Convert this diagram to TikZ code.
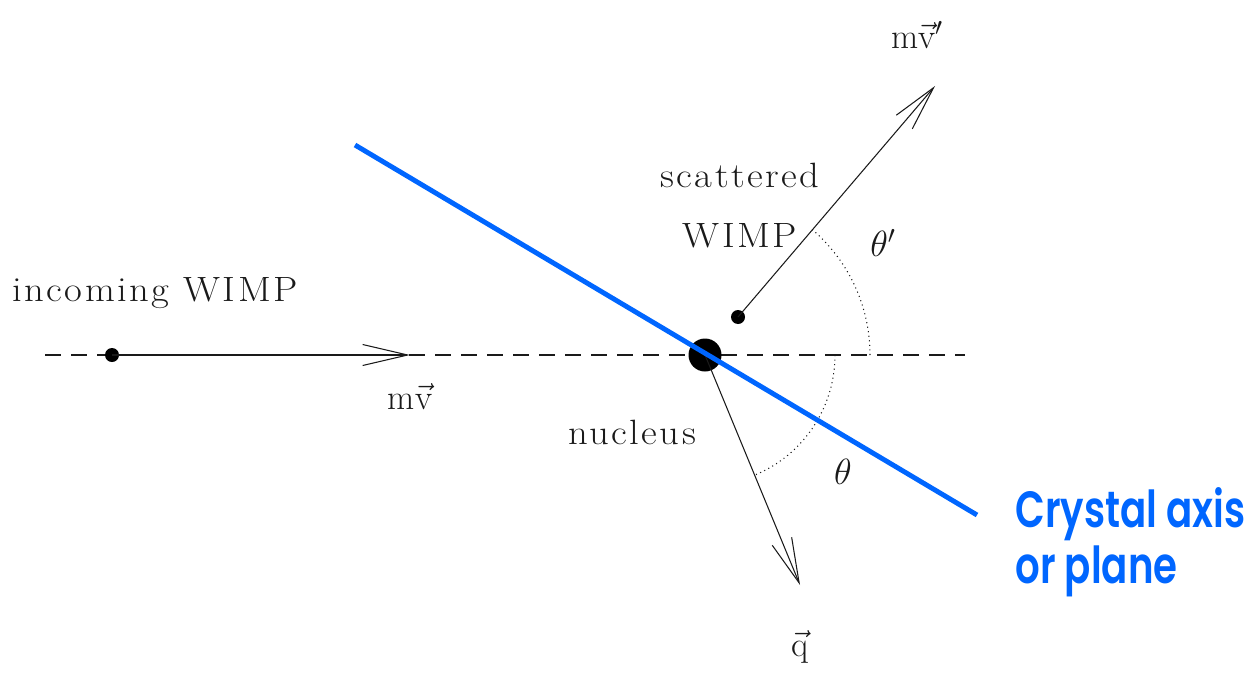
\documentclass[tikz,border=0pt]{standalone}
\usepackage{fontspec}
\usepackage{amsmath}
\usetikzlibrary{arrows.meta, positioning, calc}
\newfontfamily\axisfont{Poppins SemiBold}[FakeStretch=0.76]
\newfontfamily\labelfont{Latin Modern Roman}[FakeStretch=1.1, LetterSpace=7]
\definecolor{axisblue}{HTML}{0066FF}
\definecolor{inkdark}{HTML}{1A1A1A}
\tikzset{
  lbl/.style={text=inkdark, inner sep=0pt,
    font=\labelfont\fontsize{20}{24}\selectfont},
  vecline/.style={inkdark, line width=0.6pt,
    -{Straight Barb[length=0.9cm, width=0.42cm, line width=0.6pt]}},
  particle/.style={circle, fill=black, inner sep=0pt, minimum size=0.28cm},
  arcline/.style={inkdark, line width=0.6pt, dotted}
}

\begin{document}
\begin{tikzpicture}
  \useasboundingbox (0,0) rectangle (25.04,13.44);
  % beam axis
  \coordinate (axisL) at (0.9,6.34);
  \coordinate (axisR) at (19.3,6.34);
  \draw[inkdark, line width=0.7pt, dash pattern=on 0.32cm off 0.2cm] (axisL) -- (axisR);
  % particles
  \node[particle] (inwimp) at (2.24,6.34) {};
  \node[particle] (outwimp) at (14.76,7.1) {};
  \coordinate (intip) at (8.2,6.34);
  \coordinate (outtip) at (18.7,11.72);
  \coordinate (qtip) at (16.0,1.74);
  % crystal axis
  \coordinate (crysA) at (7.1,10.54);
  \coordinate (crysB) at (19.54,3.14);
  % angles
  \draw[arcline] ($(14.1,6.34)+(0:3.3)$) arc[start angle=0, end angle=49.5, radius=3.3];
  \draw[arcline] ($(14.1,6.34)+(0:2.6)$) arc[start angle=0, end angle=-67.6, radius=2.6];
  % momenta
  \draw[vecline] (inwimp.center) -- (intip);
  \draw[vecline] (outwimp.center) -- (outtip);
  \node[circle, fill=black, inner sep=0pt, minimum size=0.66cm] (nucleus) at (14.1,6.34) {};
  \draw[vecline] (nucleus.center) -- (qtip);
  \draw[axisblue, line width=2.8pt] (crysA) -- (crysB);
  % labels
  \node[lbl] (inlbl) at (3.1,7.58) {incoming WIMP};
  \node[lbl] (inmom) at (8.2,5.5) {$\mathrm{m}\vec{\mathrm{v}}$};
  \node[lbl] (outmom) at (18.34,12.74) {$\mathrm{m}\vec{\mathrm{v}}'$};
  \node[lbl] (scat1) at (14.8,9.94) {scattered};
  \node[lbl] (scat2) at (14.8,8.72) {WIMP};
  \node[lbl] (thetap) at (17.66,8.58) {$\theta'$};
  \node[lbl] (nuclbl) at (12.64,4.8) {nucleus};
  \node[lbl] (theta) at (16.86,4.0) {$\theta$};
  \node[lbl] (qlbl) at (16.0,0.5) {$\vec{\mathrm{q}}$};
  \node[text=axisblue, anchor=north west, align=left, inner sep=0pt,
        font=\axisfont\fontsize{29}{32}\selectfont] (crysl) at (20.3,3.7)
    {Crystal axis\\or plane};
\end{tikzpicture}
\end{document}
